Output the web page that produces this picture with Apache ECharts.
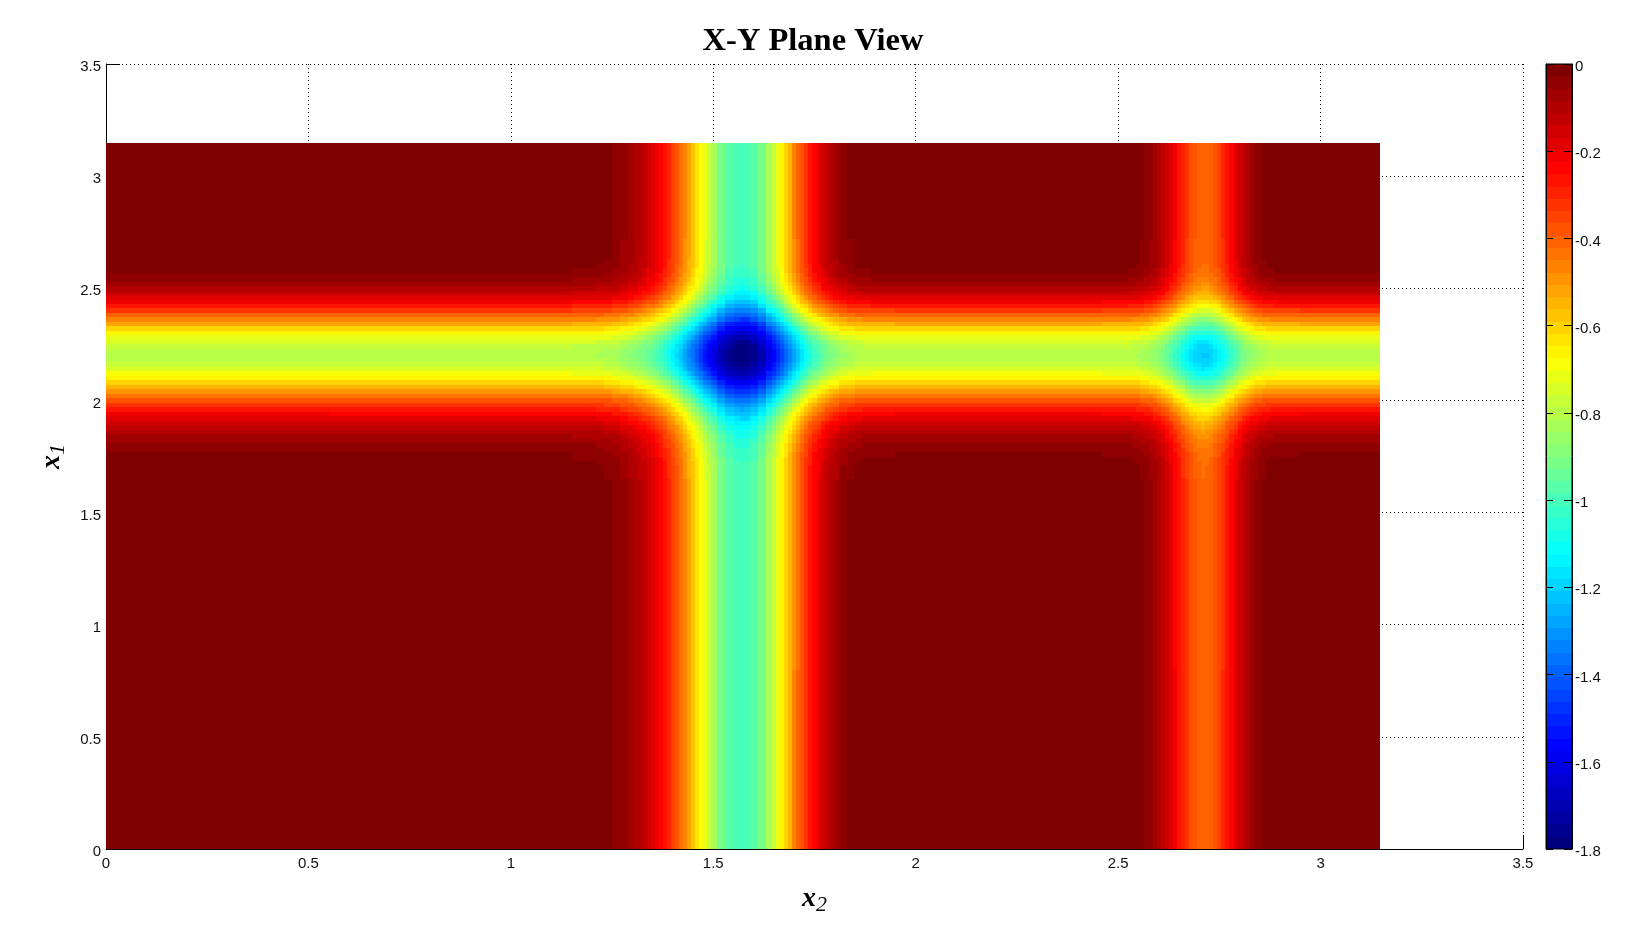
<!DOCTYPE html>
<html>
<head>
<meta charset="utf-8">
<style>html,body{margin:0;padding:0;background:#fff}#c{width:1632px;height:945px}</style>
<script src="https://cdn.jsdelivr.net/npm/echarts@6/dist/echarts.min.js"></script>
</head>
<body>
<div id="c"></div>
<script>
const titleText = 'X-Y Plane View';
const tickInterval = 0.5;
const axisMax = 3.5;
const dataMaxX = 3.147;
const dataMaxY = 3.147;
const colorMin = -1.8;
const colorMax = 0;
const levelCount = 64;
const jetStops = ['#00007f','#0000ff','#007fff','#00ffff','#7fff7f','#ffff00','#ff7f00','#ff0000','#7f0000'];

// band depth read along x2 (horizontal axis)
const x2Samples = [0,1.1,1.2,1.22,1.24,1.26,1.28,1.30,1.31,1.32,1.33,1.34,1.35,1.36,1.37,1.38,1.39,1.40,1.41,1.42,1.43,1.44,1.45,1.46,1.47,1.48,1.49,1.50,1.52,1.54,1.56,1.57,1.58,1.60,1.62,1.64,1.65,1.66,1.67,1.68,1.69,1.70,1.71,1.72,1.73,1.74,1.75,1.76,1.77,1.78,1.79,1.80,1.82,1.84,1.86,1.88,1.90,2.0,2.4,2.52,2.53,2.54,2.55,2.56,2.57,2.58,2.59,2.60,2.61,2.62,2.63,2.64,2.65,2.66,2.67,2.68,2.69,2.70,2.71,2.72,2.73,2.74,2.75,2.76,2.77,2.78,2.79,2.80,2.81,2.82,2.83,2.84,2.85,2.86,2.87,2.88,2.89,2.90,3.0,3.14];
const x2Depth = [0,0.0007,0.0092,0.0146,0.0227,0.0346,0.0514,0.0748,0.0895,0.1062,0.1254,0.1475,0.172,0.1997,0.2304,0.264,0.301,0.3408,0.3834,0.4288,0.4758,0.5256,0.5757,0.6272,0.678,0.7286,0.777,0.8227,0.9035,0.963,0.9953,1.0,0.9966,0.9655,0.9039,0.8162,0.7647,0.7098,0.6526,0.5938,0.5345,0.4765,0.4202,0.3662,0.3157,0.2687,0.2258,0.1877,0.1539,0.1244,0.0993,0.0781,0.0462,0.0256,0.0132,0.0063,0.0028,0,0,0.0045,0.0073,0.0114,0.0172,0.0255,0.0365,0.0511,0.0695,0.0924,0.1194,0.1507,0.1855,0.2231,0.2617,0.2998,0.335,0.3659,0.3901,0.4062,0.4126,0.4092,0.396,0.3737,0.3439,0.3084,0.2694,0.2292,0.1896,0.1525,0.1192,0.0904,0.0663,0.0472,0.0325,0.0216,0.0138,0.0085,0.0052,0.003,0,0];

// band depth read along x1 (vertical axis)
const x1Samples = [0,1.6,1.70,1.72,1.74,1.76,1.78,1.80,1.82,1.84,1.86,1.88,1.90,1.92,1.94,1.96,1.98,2.00,2.02,2.04,2.06,2.08,2.10,2.12,2.14,2.16,2.18,2.20,2.22,2.24,2.26,2.28,2.30,2.32,2.34,2.36,2.38,2.40,2.42,2.44,2.46,2.48,2.50,2.52,2.54,2.56,2.58,2.60,2.62,2.64,2.8,3.14];
const x1Depth = [0,0.002,0.0098,0.014,0.0192,0.026,0.0346,0.0455,0.0593,0.0763,0.097,0.1218,0.1514,0.1856,0.2248,0.2688,0.3172,0.37,0.4258,0.4835,0.5419,0.5987,0.6521,0.7,0.7409,0.7728,0.7929,0.8011,0.7966,0.7788,0.7488,0.7073,0.6559,0.5972,0.5331,0.4671,0.4002,0.3361,0.2757,0.2211,0.1731,0.1323,0.0984,0.0711,0.05,0.0341,0.0225,0.0143,0.0088,0.0052,0,0];

function edges(samples, top) {
  const e = [0];
  for (let i = 0; i < samples.length - 1; i++) e.push((samples[i] + samples[i + 1]) / 2);
  e.push(top);
  return e;
}
function levelValue(z) {
  const k = Math.max(0, Math.min(levelCount - 1, Math.floor((z - colorMin) / (colorMax - colorMin) * levelCount)));
  return colorMin + (colorMax - colorMin) * k / (levelCount - 1);
}
const xEdges = edges(x2Samples, dataMaxX);
const yEdges = edges(x1Samples, dataMaxY);
const cells = [];
x2Samples.forEach((_, i) => x1Samples.forEach((_, j) => {
  cells.push([xEdges[i], xEdges[i + 1], yEdges[j], yEdges[j + 1], levelValue(-(x2Depth[i] + x1Depth[j]))]);
}));
const barCells = [];
for (let k = 0; k < levelCount; k++) {
  const step = (colorMax - colorMin) / levelCount;
  barCells.push([0, 1, colorMin + k * step, colorMin + (k + 1) * step, colorMin + (colorMax - colorMin) * k / (levelCount - 1)]);
}
function renderRect(params, api) {
  const a = api.coord([api.value(0), api.value(2)]);
  const b = api.coord([api.value(1), api.value(3)]);
  const x = Math.round(a[0]), y = Math.round(b[1]);
  return {
    type: 'rect',
    shape: { x: x, y: y, width: Math.round(b[0]) - x, height: Math.round(a[1]) - y },
    style: { fill: api.visual('color') },
    silent: true
  };
}
const serif = '"Liberation Serif","Times New Roman",serif';
const sans = '"Liberation Sans",Arial,sans-serif';
const nameRich = {
  v: { fontFamily: serif, fontStyle: 'italic', fontWeight: 'bold', fontSize: 28, color: '#000' },
  s: { fontFamily: serif, fontStyle: 'italic', fontSize: 22, color: '#000', padding: [13, 0, 0, 0] }
};
const fmt = v => String(+v.toFixed(1));
const chart = echarts.init(document.getElementById('c'), null, { renderer: 'canvas' });
chart.setOption({
  animation: false,
  backgroundColor: '#fff',
  title: {
    text: titleText, left: 808, top: 20, textAlign: 'center',
    textStyle: { fontFamily: serif, fontWeight: 'bold', fontSize: 32.5, color: '#000' }
  },
  visualMap: { type: 'continuous', show: false, min: colorMin, max: colorMax, dimension: 4, seriesIndex: [0, 1], inRange: { color: jetStops } },
  grid: [
    { left: 106, top: 64, width: 1417, height: 785, containLabel: false },
    { left: 1546, top: 64, width: 26, height: 785, show: true, borderColor: '#000', borderWidth: 1, backgroundColor: 'transparent', z: 5 }
  ],
  xAxis: [
    {
      type: 'value', gridIndex: 0, min: 0, max: axisMax, interval: tickInterval,
      name: '{v|x}{s|2}', nameLocation: 'middle', nameGap: 32,
      nameTextStyle: { rich: nameRich },
      axisLine: { show: true, onZero: false, lineStyle: { color: '#000', width: 1 } },
      axisTick: { show: true, inside: true, length: 14, lineStyle: { color: '#000' } },
      axisLabel: { fontFamily: sans, fontSize: 15, color: '#111', margin: 7, formatter: fmt, showMinLabel: true, showMaxLabel: true },
      splitLine: { show: true, lineStyle: { color: '#000', width: 1, type: [1, 3] } }
    },
    { type: 'value', gridIndex: 1, min: 0, max: 1, show: false }
  ],
  yAxis: [
    {
      type: 'value', gridIndex: 0, min: 0, max: axisMax, interval: tickInterval,
      name: '{v|x}{s|1}', nameLocation: 'middle', nameGap: 37, nameRotate: 90,
      nameTextStyle: { rich: nameRich },
      axisLine: { show: true, onZero: false, lineStyle: { color: '#000', width: 1 } },
      axisTick: { show: true, inside: true, length: 14, lineStyle: { color: '#000' } },
      axisLabel: { fontFamily: sans, fontSize: 15, color: '#111', margin: 5, verticalAlign: 'top', lineHeight: 6, formatter: fmt, showMinLabel: true, showMaxLabel: true },
      splitLine: { show: true, lineStyle: { color: '#000', width: 1, type: [1, 3] } }
    },
    {
      type: 'value', gridIndex: 1, position: 'right', min: colorMin, max: colorMax, interval: 0.2, z: 6,
      axisLine: { show: true, onZero: false, lineStyle: { color: '#000', width: 1 } },
      axisTick: { show: true, inside: true, length: 8, lineStyle: { color: '#000' } },
      axisLabel: { fontFamily: sans, fontSize: 15, color: '#111', margin: 3, verticalAlign: 'top', lineHeight: 6, formatter: fmt, showMinLabel: true, showMaxLabel: true },
      splitLine: { show: false }
    },
    {
      type: 'value', gridIndex: 1, position: 'left', min: colorMin, max: colorMax, interval: 0.2, z: 6,
      axisLine: { show: true, onZero: false, lineStyle: { color: '#000', width: 1 } },
      axisTick: { show: true, inside: true, length: 7, lineStyle: { color: '#000' } },
      axisLabel: { show: false },
      splitLine: { show: false }
    }
  ],
  series: [
    { type: 'custom', xAxisIndex: 0, yAxisIndex: 0, renderItem: renderRect, data: cells, progressive: 0, z: 3, clip: false, encode: { x: [0, 1], y: [2, 3] }, silent: true },
    { type: 'custom', xAxisIndex: 1, yAxisIndex: 1, renderItem: renderRect, data: barCells, progressive: 0, z: 3, clip: false, encode: { x: [0, 1], y: [2, 3] }, silent: true }
  ]
});
</script>
</body>
</html>
